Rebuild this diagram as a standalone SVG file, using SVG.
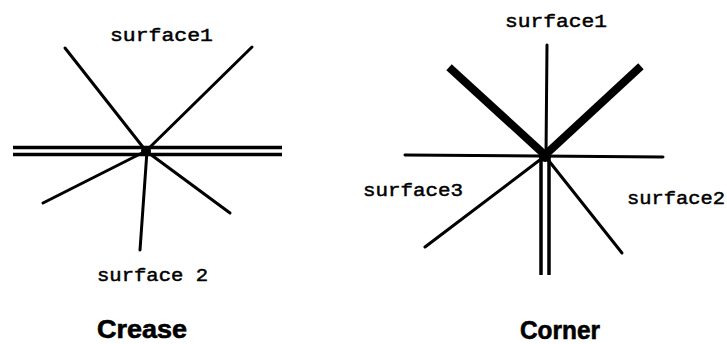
<svg xmlns="http://www.w3.org/2000/svg" width="727" height="344" viewBox="0 0 727 344">
<style>
.ln{stroke:#000;stroke-width:3;stroke-linecap:round;fill:none}
.thick{stroke:#000;stroke-width:8;stroke-linecap:square;fill:none}
.dbl{stroke:#000;stroke-width:3.5;fill:none}
.lbl{font-family:"Liberation Mono","Courier New",monospace;font-size:19px;fill:#000;stroke:#000;stroke-width:0.5}
.ttl{font-family:"Liberation Sans",Arial,sans-serif;font-weight:bold;font-size:26px;fill:#000;stroke:#000;stroke-width:0.6}
</style>
<rect width="727" height="344" fill="#fff"/>
<g id="crease">
  <g id="crease-lines">
    <line class="ln" x1="65" y1="48" x2="146" y2="151"/>
    <line class="ln" x1="252" y1="47" x2="146" y2="151"/>
    <line class="ln" x1="43" y1="203" x2="146" y2="151"/>
    <line class="ln" x1="230" y1="213" x2="146" y2="151"/>
    <line class="ln" x1="140" y1="250" x2="147" y2="151"/>
    <line class="dbl" x1="13" y1="147.5" x2="282" y2="147.5"/>
    <line class="dbl" x1="13" y1="154.5" x2="282" y2="154.5"/>
    <circle cx="146" cy="151" r="5" fill="#000"/>
  </g>
  <text class="lbl" x="110" y="41" textLength="103" lengthAdjust="spacingAndGlyphs">surface1</text>
  <text class="lbl" x="97" y="281" textLength="111" lengthAdjust="spacingAndGlyphs">surface 2</text>
  <text class="ttl" x="97" y="338" textLength="90" lengthAdjust="spacingAndGlyphs">Crease</text>
</g>
<g id="corner">
  <g id="corner-lines">
    <line class="ln" x1="547" y1="45" x2="546" y2="155"/>
    <line class="thick" x1="452" y1="70" x2="545" y2="155"/>
    <line class="thick" x1="638" y1="69" x2="545" y2="155"/>
    <line class="ln" x1="405" y1="155" x2="663" y2="157"/>
    <line class="ln" x1="425" y1="247" x2="545" y2="156"/>
    <line class="ln" x1="622" y1="253" x2="545" y2="156"/>
    <line class="dbl" x1="541" y1="155" x2="541" y2="275"/>
    <line class="dbl" x1="549" y1="155" x2="549" y2="275"/>
    <circle cx="545" cy="156" r="6" fill="#000"/>
  </g>
  <text class="lbl" x="505" y="27" textLength="102" lengthAdjust="spacingAndGlyphs">surface1</text>
  <text class="lbl" x="363" y="196" textLength="100" lengthAdjust="spacingAndGlyphs">surface3</text>
  <text class="lbl" x="627" y="204" textLength="98" lengthAdjust="spacingAndGlyphs">surface2</text>
  <text class="ttl" x="520" y="339" textLength="80" lengthAdjust="spacingAndGlyphs">Corner</text>
</g>
</svg>
